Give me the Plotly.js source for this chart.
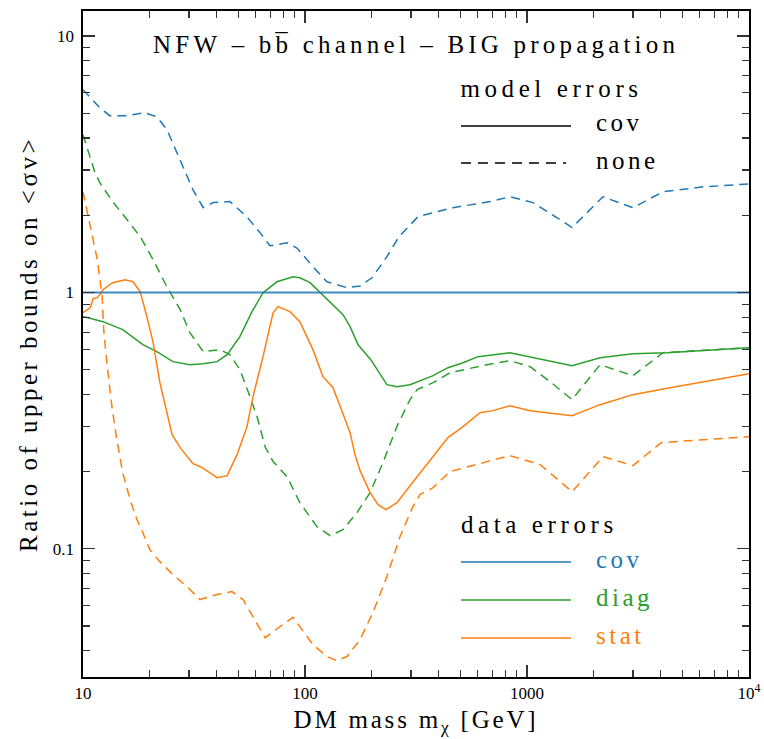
<!DOCTYPE html>
<html>
<head>
<meta charset="utf-8">
<script src="https://cdn.plot.ly/plotly-3.0.1.min.js"></script>
<style>
  html, body { margin: 0; padding: 0; background: #fff; }
  #chart { width: 764px; height: 739px; }
  .annotation-text, .ytitle { letter-spacing: 3.5px; }
  .xtitle { letter-spacing: 2.8px; }
  g.annotation[data-index="0"] .annotation-text { letter-spacing: 4.2px; }
  g.annotation[data-index="1"] .annotation-text, g.annotation[data-index="2"] .annotation-text { letter-spacing: 4.6px; }
</style>
</head>
<body>
<div id="chart"></div>
<script>
// ---- data ----
// cov data errors, model errors = cov (reference curve, ratio = 1)
const covSolidX = [10, 10000];
const covSolidY = [1, 1];

// cov data errors, no model errors
const covDashX = [10.0, 10.8, 11.9, 13.2, 15.8, 19.0, 21.5, 23.9, 27.4, 31.3, 34.8, 38.6, 45.9, 54.8, 62.7, 69.5, 83.0, 92.0, 108.6, 125.6, 154.5, 177.0, 200.4, 233.9, 265.0, 322.8, 377.6, 464.5, 680.8, 837.5, 1064, 1230, 1409, 1596, 1862, 2198, 2999, 4103, 6209, 10000];
const covDashY = [6.17, 5.74, 5.25, 4.89, 4.89, 5.02, 4.84, 4.31, 3.29, 2.51, 2.14, 2.24, 2.26, 1.97, 1.71, 1.52, 1.56, 1.49, 1.26, 1.10, 1.043, 1.06, 1.14, 1.378, 1.649, 1.973, 2.045, 2.14, 2.26, 2.36, 2.24, 2.06, 1.92, 1.79, 2.05, 2.36, 2.14, 2.47, 2.58, 2.65];

// diag data errors, model errors = cov
const diagSolidX = [10.0, 12.3, 15.1, 18.6, 21.5, 25.4, 30.3, 34.8, 40.2, 44.6, 50.9, 57.7, 64.7, 74.8, 88.3, 94.8, 105.4, 117.0, 133.7, 148.3, 159.6, 173.4, 197.8, 217.8, 233.9, 259.4, 297.2, 377.6, 440.6, 515.2, 601.2, 837.5, 1064, 1596, 2133, 2999, 4276, 10000];
const diagSolidY = [0.805, 0.769, 0.716, 0.626, 0.588, 0.537, 0.522, 0.527, 0.537, 0.572, 0.672, 0.841, 0.997, 1.10, 1.151, 1.141, 1.091, 0.997, 0.896, 0.819, 0.735, 0.625, 0.5466, 0.4776, 0.4366, 0.429, 0.4366, 0.4734, 0.5085, 0.532, 0.5615, 0.5818, 0.556, 0.518, 0.556, 0.5768, 0.5818, 0.6087];

// diag data errors, no model errors
const diagDashX = [10.0, 10.4, 10.8, 11.3, 11.9, 13.6, 15.8, 18.1, 20.7, 23.9, 27.4, 30.3, 34.8, 41.4, 45.9, 50.9, 56.5, 60.8, 66.1, 71.8, 83.0, 94.8, 113.2, 129.7, 148.3, 171.4, 196.4, 224.4, 259.4, 297.2, 320.0, 377.6, 449.8, 660.7, 837.5, 1033, 1271, 1596, 2133, 2999, 4103, 6209, 10000];
const diagDashY = [4.12, 3.70, 3.30, 2.95, 2.68, 2.26, 1.92, 1.65, 1.34, 1.05, 0.856, 0.697, 0.587, 0.598, 0.572, 0.4995, 0.392, 0.328, 0.250, 0.219, 0.191, 0.1514, 0.122, 0.1126, 0.1188, 0.1384, 0.1656, 0.2168, 0.2998, 0.382, 0.418, 0.4446, 0.486, 0.5224, 0.5418, 0.513, 0.4486, 0.3817, 0.5224, 0.4734, 0.5818, 0.5924, 0.6087];

// stat data errors, model errors = cov
const statSolidX = [10.0, 10.8, 11.1, 11.6, 11.9, 12.3, 13.6, 15.5, 16.8, 18.1, 19.4, 20.7, 22.2, 25.2, 27.4, 31.3, 34.4, 40.2, 44.6, 49.4, 54.8, 58.3, 64.7, 71.8, 75.5, 85.5, 94.8, 108.6, 120.5, 133.7, 148.3, 159.6, 167.9, 177.0, 196.4, 213.3, 231.7, 259.4, 319.9, 377.6, 440.6, 515.2, 614.0, 703.0, 837.5, 1033, 1230, 1596, 2133, 2999, 4406, 10000];
const statSolidY = [0.834, 0.872, 0.946, 0.954, 0.980, 1.024, 1.091, 1.121, 1.101, 1.006, 0.804, 0.637, 0.4446, 0.2788, 0.248, 0.2149, 0.2073, 0.1894, 0.1929, 0.2329, 0.2995, 0.392, 0.5615, 0.833, 0.88, 0.841, 0.769, 0.598, 0.469, 0.425, 0.3366, 0.2838, 0.2329, 0.2018, 0.1656, 0.1487, 0.1421, 0.1514, 0.1911, 0.2288, 0.2714, 0.2995, 0.3396, 0.3458, 0.3616, 0.3458, 0.3396, 0.3306, 0.3649, 0.3992, 0.425, 0.4819];

// stat data errors, no model errors
const statDashX = [10.0, 10.8, 11.6, 12.2, 12.4, 12.8, 13.5, 14.2, 15.1, 16.3, 17.5, 18.6, 20.0, 22.2, 25.4, 29.4, 33.6, 40.2, 46.9, 52.6, 58.3, 66.1, 77.1, 88.3, 94.8, 108.6, 125.6, 139.3, 154.5, 177.0, 202.3, 233.9, 267.9, 306.2, 329.6, 377.6, 449.8, 537.0, 660.7, 837.5, 1146, 1596, 2198, 2999, 4018, 10000];
const statDashY = [2.47, 1.80, 1.341, 0.962, 0.715, 0.532, 0.3584, 0.2666, 0.198, 0.1555, 0.130, 0.1155, 0.0993, 0.0891, 0.0793, 0.0712, 0.0634, 0.0663, 0.0681, 0.0634, 0.0544, 0.0450, 0.0497, 0.054, 0.0497, 0.0423, 0.038, 0.0366, 0.038, 0.0443, 0.0564, 0.0779, 0.1116, 0.146, 0.1627, 0.1732, 0.20, 0.209, 0.2188, 0.2308, 0.213, 0.167, 0.2288, 0.211, 0.2594, 0.2737];

const xTickVals = [10, 100, 1000, 10000];
const xTickText = ['10', '100', '1000', '10<sup>4</sup>'];
const yTickVals = [0.1, 1, 10];
const yTickText = ['0.1', '1', '10'];
const xMinorVals = [20,30,40,50,60,70,80,90,200,300,400,500,600,700,800,900,2000,3000,4000,5000,6000,7000,8000,9000];
const yMinorVals = [0.04,0.05,0.06,0.07,0.08,0.09,0.2,0.3,0.4,0.5,0.6,0.7,0.8,0.9,2,3,4,5,6,7,8,9];

const modelLabels = ['cov', 'none'];
const dataLabels = ['cov', 'diag', 'stat'];

// ---- styles ----
const BLUE = '#1f77b4', GREEN = '#2ca02c', ORANGE = '#ff7f0e';
const DASH = '9px,6px';
const SERIF = 'Liberation Serif';
const TSIZE = 25;
const TICKFONT = 'Liberation Serif';

const traces = [
  {x: covDashX, y: covDashY, mode: 'lines', line: {color: BLUE, width: 1.5, dash: DASH}},
  {x: diagDashX, y: diagDashY, mode: 'lines', line: {color: GREEN, width: 1.5, dash: DASH}},
  {x: statDashX, y: statDashY, mode: 'lines', line: {color: ORANGE, width: 1.5, dash: DASH}},
  {x: diagSolidX, y: diagSolidY, mode: 'lines', line: {color: GREEN, width: 1.5}},
  {x: statSolidX, y: statSolidY, mode: 'lines', line: {color: ORANGE, width: 1.5}},
  {x: covSolidX, y: covSolidY, mode: 'lines', line: {color: 'rgba(31,119,180,0.85)', width: 2}}
];

const L = 83, R = 749, T = 11, B = 677, W = R - L, H = B - T;
const px = v => (v - L) / W;
const py = v => (B - v) / H;

const legendLineX0 = px(461), legendLineX1 = px(571), legendTextX = px(594);
const modelRows = [126, 163];
const dataRows = [562, 600, 638];
const dataColors = [BLUE, GREEN, ORANGE];

const shapes = [
  {type: 'line', xref: 'paper', yref: 'paper', x0: legendLineX0, x1: legendLineX1, y0: py(modelRows[0]), y1: py(modelRows[0]), line: {color: '#000', width: 1.5}},
  {type: 'line', xref: 'paper', yref: 'paper', x0: legendLineX0, x1: px(566), y0: py(modelRows[1]), y1: py(modelRows[1]), line: {color: '#000', width: 1.5, dash: '10px,7px'}}
];
dataRows.forEach((r, i) => shapes.push({type: 'line', xref: 'paper', yref: 'paper', x0: legendLineX0, x1: legendLineX1, y0: py(r), y1: py(r), line: {color: dataColors[i], width: 1.5}}));

const NB = '\u00a0';
const annotations = [
  {text: 'NFW' + NB + '–' + NB + 'b' + 'b\u0305' + NB + 'channel' + NB + '–' + NB + 'BIG' + NB + 'propagation',
   xref: 'paper', yref: 'paper', x: px(416), y: py(44), xanchor: 'center', yanchor: 'middle', showarrow: false, font: {family: SERIF, size: TSIZE, color: '#000'}},
  {text: 'model' + NB + 'errors', xref: 'paper', yref: 'paper', x: px(465), y: py(88), xanchor: 'left', yanchor: 'middle', showarrow: false, font: {family: SERIF, size: TSIZE, color: '#000'}},
  {text: 'data' + NB + 'errors', xref: 'paper', yref: 'paper', x: px(465), y: py(524), xanchor: 'left', yanchor: 'middle', showarrow: false, font: {family: SERIF, size: TSIZE, color: '#000'}}
];
modelLabels.forEach((t, i) => annotations.push({text: t, xref: 'paper', yref: 'paper', x: legendTextX, y: py(modelRows[i] - 3), xanchor: 'left', yanchor: 'middle', showarrow: false, font: {family: SERIF, size: TSIZE, color: '#000'}}));
dataLabels.forEach((t, i) => annotations.push({text: t, xref: 'paper', yref: 'paper', x: legendTextX, y: py(dataRows[i] - 3), xanchor: 'left', yanchor: 'middle', showarrow: false, font: {family: SERIF, size: TSIZE, color: dataColors[i]}}));

const axisCommon = {
  type: 'log', showgrid: false, zeroline: false, showline: true, linecolor: '#000', linewidth: 1.6,
  mirror: 'allticks', ticks: 'inside', ticklen: 12, tickwidth: 1.2, tickcolor: '#333',
  tickmode: 'array', tickfont: {family: TICKFONT, size: 17, color: '#000'},
  automargin: false
};

const layout = {
  width: 764, height: 739,
  margin: {l: L, r: 764 - R, t: T, b: 739 - B, pad: 0},
  paper_bgcolor: '#fff', plot_bgcolor: '#fff',
  showlegend: false,
  xaxis: Object.assign({}, axisCommon, {
    range: [1, 4], tickvals: xTickVals, ticktext: xTickText,
    minor: {tickmode: 'array', tickvals: xMinorVals, ticks: 'inside', ticklen: 7, tickwidth: 1.2, tickcolor: '#333', showgrid: false},
    title: {text: 'DM' + NB + 'mass' + NB + 'm<sub>χ</sub>' + NB + '[GeV]', font: {family: SERIF, size: TSIZE, color: '#000'}, standoff: 8}
  }),
  yaxis: Object.assign({}, axisCommon, {
    range: [-1.5, 1.0975], tickvals: yTickVals, ticktext: yTickText,
    minor: {tickmode: 'array', tickvals: yMinorVals, ticks: 'inside', ticklen: 7, tickwidth: 1.2, tickcolor: '#333', showgrid: false},
    ticklabelstandoff: 4,
    title: {text: 'Ratio' + NB + 'of' + NB + 'upper' + NB + 'bounds' + NB + 'on' + NB + '&lt;σv&gt;', font: {family: SERIF, size: TSIZE, color: '#000'}, standoff: 8}
  }),
  shapes: shapes,
  annotations: annotations
};

Plotly.newPlot('chart', traces, layout, {staticPlot: true, displayModeBar: false});
</script>
</body>
</html>
